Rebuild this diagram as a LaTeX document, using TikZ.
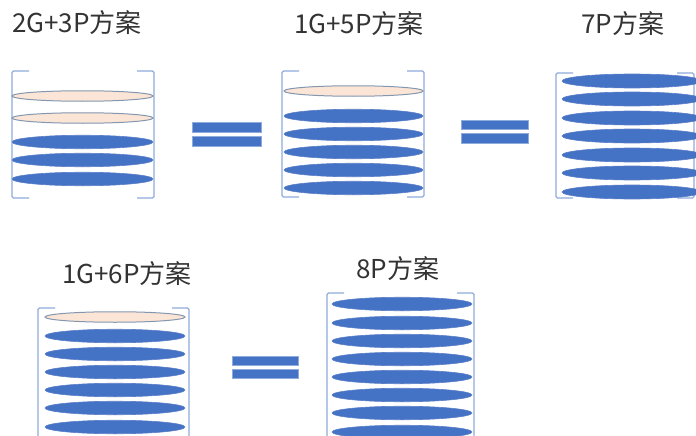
\documentclass[tikz,border=0pt]{standalone}
\usepackage{fontspec}
\newfontfamily\cjk{Noto Sans CJK SC}
\usetikzlibrary{shapes.geometric}
\definecolor{pblue}{HTML}{4472C4}
\definecolor{pedge}{HTML}{5B7FC8}
\definecolor{peach}{HTML}{FBE5D6}
\definecolor{pgray}{HTML}{8497B0}
\definecolor{brk}{HTML}{8FAADC}
\definecolor{txt}{HTML}{333333}
\tikzset{
  blueell/.style={ellipse, fill=pblue, draw=pedge, line width=0.6pt, minimum width=140pt, minimum height=13.5pt, inner sep=0pt},
  peachell/.style={ellipse, fill=peach, draw=pgray, line width=1pt, minimum width=140pt, minimum height=10.5pt, inner sep=0pt},
  bracket/.style={draw=brk, line width=1.3pt, rounded corners=1.5pt},
  eqbar/.style={fill=pblue, draw=brk, line width=0.5pt},
  title/.style={font=\cjk\fontsize{26}{30}\selectfont, text=txt, inner sep=0pt, anchor=base west}
}
\begin{document}
\begin{tikzpicture}[x=1pt,y=-1pt]
\useasboundingbox (0,0) rectangle (696,436);
\clip (0,0) rectangle (696,436);
% titles
\node[title] (t1) at (12,33) {2G+3P方案};
\node[title] (t2) at (294,34) {1G+5P方案};
\node[title] (t3) at (581,34) {7P方案};
\node[title] (t4) at (62,283) {1G+6P方案};
\node[title] (t5) at (356,278) {8P方案};
% group 1
\draw[bracket] (29,71) -- (12,71) -- (12,198) -- (29,198);
\draw[bracket] (137,71) -- (154,71) -- (154,198) -- (137,198);
\node[peachell, minimum width=141pt] (a1) at (82.5,96) {};
\node[peachell, minimum width=141pt] (a2) at (82.5,118) {};
\node[blueell, minimum width=141pt] (a3) at (82.5,142) {};
\node[blueell, minimum width=141pt] (a4) at (82.5,160) {};
\node[blueell, minimum width=141pt] (a5) at (82.5,179) {};
% group 2
\draw[bracket] (299,71) -- (282,71) -- (282,197) -- (299,197);
\draw[bracket] (407,71) -- (424,71) -- (424,197) -- (407,197);
\node[peachell, minimum width=139pt] (b1) at (353.5,91) {};
\foreach \y [count=\i from 2] in {116,134,152,170,188}
  \node[blueell, minimum width=139pt] (b\i) at (353.5,\y) {};
% group 3
\draw[bracket] (573,73) -- (556,73) -- (556,198) -- (573,198);
\draw[bracket] (677,73) -- (694,73) -- (694,198) -- (677,198);
\foreach \y [count=\i] in {81,99,118,136,155,173,192}
  \node[blueell, minimum height=14pt] (c\i) at (632,\y) {};
% group 4
\draw[bracket] (55,308) -- (38,308) -- (38,440);
\draw[bracket] (172,308) -- (189,308) -- (189,440);
\node[peachell] (d1) at (115,317) {};
\foreach \y [count=\i from 2] in {336,354,372,390,408,427}
  \node[blueell] (d\i) at (115,\y) {};
% group 5
\draw[bracket] (344,293) -- (327,293) -- (327,440);
\draw[bracket] (457,293) -- (474,293) -- (474,440);
\foreach \y [count=\i] in {304,323,341,359,377,395,413,432}
  \node[blueell] (e\i) at (402,\y) {};
% equals signs
\draw[eqbar] (192,122) rectangle (261,132);
\draw[eqbar] (192,136) rectangle (261,146);
\draw[eqbar] (461,120) rectangle (528,129);
\draw[eqbar] (461,133) rectangle (528,143);
\draw[eqbar] (232,356) rectangle (298,365);
\draw[eqbar] (232,369) rectangle (298,378);
\end{tikzpicture}
\end{document}
